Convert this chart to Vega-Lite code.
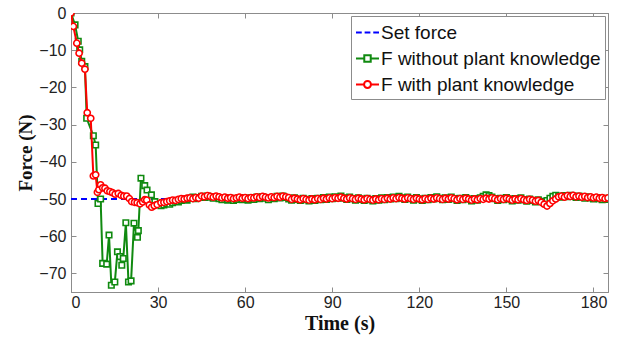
{
  "$schema": "https://vega.github.io/schema/vega-lite/v6.json",
  "width": 537,
  "height": 279,
  "autosize": "none",
  "padding": {"left": 71, "top": 13, "right": 17, "bottom": 49},
  "background": "white",
  "config": {
    "font": "Liberation Serif",
    "view": {"stroke": "#8c8c8c"},
    "axis": {
      "grid": false,
      "domainColor": "#8c8c8c",
      "tickColor": "#8c8c8c",
      "tickSize": -5,
      "labelFont": "Liberation Sans",
      "labelFontSize": 16,
      "labelColor": "#222222",
      "titleFont": "Liberation Serif",
      "titleFontWeight": "bold",
      "titleFontSize": 19,
      "titleColor": "#111111"
    }
  },
  "datasets": {
    "setforce": [{"t": 0, "F": -50}, {"t": 185, "F": -50}],
    "green": [
      {"t": 0, "F": 0}, {"t": 1.4, "F": -3.2}, {"t": 2.5, "F": -7.6}, {"t": 3.0, "F": -9.9}, {"t": 3.7, "F": -13.0},
      {"t": 4.8, "F": -14.4}, {"t": 5.4, "F": -28.3}, {"t": 7.7, "F": -33.0}, {"t": 8.5, "F": -35.5}, {"t": 9.3, "F": -51.2},
      {"t": 10.2, "F": -50.0}, {"t": 10.9, "F": -67.3}, {"t": 12.3, "F": -67.5}, {"t": 13.1, "F": -59.7}, {"t": 13.9, "F": -73.2},
      {"t": 15.1, "F": -72.3}, {"t": 16.0, "F": -64.2}, {"t": 16.9, "F": -65.5}, {"t": 17.5, "F": -67.8}, {"t": 18.0, "F": -66.0},
      {"t": 18.9, "F": -56.4}, {"t": 19.8, "F": -72.3}, {"t": 20.7, "F": -72.0}, {"t": 21.7, "F": -56.5}, {"t": 22.9, "F": -60.3},
      {"t": 23.2, "F": -58.5}, {"t": 24.1, "F": -44.4}, {"t": 25.4, "F": -46.4}, {"t": 26.2, "F": -47.6}, {"t": 27.7, "F": -48.9},
      {"t": 28.9, "F": -50.7},
      {"t": 30, "F": -51.5}, {"t": 31, "F": -51.8}, {"t": 32, "F": -51.6}, {"t": 33, "F": -51.2}, {"t": 34, "F": -51.4},
      {"t": 35, "F": -51.0}, {"t": 36, "F": -50.6}, {"t": 37, "F": -50.8}, {"t": 38, "F": -50.4}, {"t": 39, "F": -50.1},
      {"t": 40, "F": -50.3}, {"t": 41, "F": -49.8}, {"t": 42, "F": -49.5}, {"t": 43, "F": -49.9}, {"t": 44, "F": -49.6},
      {"t": 45, "F": -49.3}, {"t": 46, "F": -49.6}, {"t": 47, "F": -49.2}, {"t": 48, "F": -49.5}, {"t": 49, "F": -49.8},
      {"t": 50, "F": -49.4}, {"t": 51, "F": -49.9}, {"t": 52, "F": -50.2}, {"t": 53, "F": -49.7}, {"t": 54, "F": -50.3},
      {"t": 55, "F": -49.8}, {"t": 56, "F": -50.4}, {"t": 57, "F": -50.1}, {"t": 58, "F": -49.6}, {"t": 59, "F": -50.2},
      {"t": 60, "F": -49.8}, {"t": 61, "F": -50.3}, {"t": 62, "F": -49.7}, {"t": 63, "F": -50.1}, {"t": 64, "F": -49.5},
      {"t": 65, "F": -49.9}, {"t": 66, "F": -49.4}, {"t": 67, "F": -49.8}, {"t": 68, "F": -50.2}, {"t": 69, "F": -49.6},
      {"t": 70, "F": -49.9}, {"t": 71, "F": -49.3}, {"t": 72, "F": -49.7}, {"t": 73, "F": -49.2}, {"t": 74, "F": -49.6},
      {"t": 75, "F": -50.0}, {"t": 76, "F": -50.3}, {"t": 77, "F": -49.7}, {"t": 78, "F": -50.1}, {"t": 79, "F": -50.4},
      {"t": 80, "F": -49.8}, {"t": 81, "F": -50.2}, {"t": 82, "F": -50.5}, {"t": 83, "F": -49.9}, {"t": 84, "F": -50.4},
      {"t": 85, "F": -49.8}, {"t": 86, "F": -50.2}, {"t": 87, "F": -49.6}, {"t": 88, "F": -50.1}, {"t": 89, "F": -49.5},
      {"t": 90, "F": -49.9}, {"t": 91, "F": -49.4}, {"t": 92, "F": -49.8}, {"t": 93, "F": -49.2}, {"t": 94, "F": -49.7},
      {"t": 95, "F": -50.1}, {"t": 96, "F": -49.5}, {"t": 97, "F": -49.9}, {"t": 98, "F": -50.3}, {"t": 99, "F": -49.7},
      {"t": 100, "F": -50.1}, {"t": 101, "F": -50.4}, {"t": 102, "F": -49.8}, {"t": 103, "F": -50.2}, {"t": 104, "F": -50.5},
      {"t": 105, "F": -49.9}, {"t": 106, "F": -50.3}, {"t": 107, "F": -49.7}, {"t": 108, "F": -50.2}, {"t": 109, "F": -49.6},
      {"t": 110, "F": -50.0}, {"t": 111, "F": -49.5}, {"t": 112, "F": -49.9}, {"t": 113, "F": -49.3}, {"t": 114, "F": -49.7},
      {"t": 115, "F": -50.1}, {"t": 116, "F": -49.5}, {"t": 117, "F": -49.9}, {"t": 118, "F": -50.3}, {"t": 119, "F": -49.6},
      {"t": 120, "F": -50.0}, {"t": 121, "F": -50.4}, {"t": 122, "F": -49.8}, {"t": 123, "F": -50.2}, {"t": 124, "F": -49.6},
      {"t": 125, "F": -50.0}, {"t": 126, "F": -49.4}, {"t": 127, "F": -49.8}, {"t": 128, "F": -50.2}, {"t": 129, "F": -49.7},
      {"t": 130, "F": -50.1}, {"t": 131, "F": -49.5}, {"t": 132, "F": -49.9}, {"t": 133, "F": -50.4}, {"t": 134, "F": -49.8},
      {"t": 135, "F": -50.2}, {"t": 136, "F": -49.6}, {"t": 137, "F": -50.0}, {"t": 138, "F": -50.5}, {"t": 139, "F": -49.9},
      {"t": 140, "F": -50.3}, {"t": 141, "F": -49.7}, {"t": 142, "F": -49.3}, {"t": 143, "F": -48.9}, {"t": 144, "F": -49.1},
      {"t": 145, "F": -49.5}, {"t": 146, "F": -49.9}, {"t": 147, "F": -50.4}, {"t": 148, "F": -49.8}, {"t": 149, "F": -50.2},
      {"t": 150, "F": -49.6}, {"t": 151, "F": -50.0}, {"t": 152, "F": -50.5}, {"t": 153, "F": -49.9}, {"t": 154, "F": -50.3},
      {"t": 155, "F": -49.7}, {"t": 156, "F": -50.2}, {"t": 157, "F": -50.6}, {"t": 158, "F": -50.0}, {"t": 159, "F": -50.4},
      {"t": 160, "F": -50.8}, {"t": 161, "F": -50.2}, {"t": 162, "F": -50.6}, {"t": 163, "F": -51.0}, {"t": 164, "F": -50.4},
      {"t": 165, "F": -49.8}, {"t": 166, "F": -49.3}, {"t": 167, "F": -49.0}, {"t": 168, "F": -49.2}, {"t": 169, "F": -49.5},
      {"t": 170, "F": -49.1}, {"t": 171, "F": -49.4}, {"t": 172, "F": -49.0}, {"t": 173, "F": -49.3}, {"t": 174, "F": -49.6},
      {"t": 175, "F": -49.2}, {"t": 176, "F": -49.5}, {"t": 177, "F": -49.8}, {"t": 178, "F": -49.4}, {"t": 179, "F": -49.7},
      {"t": 180, "F": -50.0}, {"t": 181, "F": -49.6}, {"t": 182, "F": -49.9}, {"t": 183, "F": -50.2}, {"t": 184, "F": -49.8},
      {"t": 185, "F": -50.1}
    ],
    "red": [
      {"t": 0, "F": 0}, {"t": 0.8, "F": -3.6}, {"t": 2.0, "F": -8.1}, {"t": 2.8, "F": -10.8}, {"t": 3.7, "F": -13.5},
      {"t": 4.8, "F": -15.1}, {"t": 5.6, "F": -26.8}, {"t": 6.8, "F": -28.3}, {"t": 7.7, "F": -43.8}, {"t": 8.5, "F": -43.5},
      {"t": 9.1, "F": -48.2}, {"t": 9.6, "F": -47.5}, {"t": 10.2, "F": -46.2}, {"t": 10.9, "F": -47.0}, {"t": 11.7, "F": -47.1},
      {"t": 12.5, "F": -47.8}, {"t": 13.4, "F": -48.0}, {"t": 14.3, "F": -48.3}, {"t": 15.2, "F": -48.7}, {"t": 16.3, "F": -48.5},
      {"t": 17.3, "F": -49.0}, {"t": 18.2, "F": -49.2}, {"t": 19.2, "F": -49.2}, {"t": 20.1, "F": -49.9}, {"t": 20.9, "F": -50.7},
      {"t": 21.9, "F": -50.9}, {"t": 22.8, "F": -51.0}, {"t": 23.8, "F": -51.3}, {"t": 24.7, "F": -50.8}, {"t": 25.4, "F": -50.2},
      {"t": 26.1, "F": -50.3}, {"t": 27.0, "F": -51.6}, {"t": 27.8, "F": -52.2}, {"t": 28.7, "F": -51.8}, {"t": 29.7, "F": -51.5},
      {"t": 31, "F": -51.0}, {"t": 32, "F": -50.9}, {"t": 33, "F": -50.7}, {"t": 34, "F": -50.5}, {"t": 35, "F": -50.3},
      {"t": 36, "F": -50.4}, {"t": 37, "F": -50.1}, {"t": 38, "F": -49.9}, {"t": 39, "F": -50.0}, {"t": 40, "F": -49.8},
      {"t": 41, "F": -49.7}, {"t": 42, "F": -49.9}, {"t": 43, "F": -49.6}, {"t": 44, "F": -49.8}, {"t": 45, "F": -49.2},
      {"t": 46, "F": -49.4}, {"t": 47, "F": -49.1}, {"t": 48, "F": -49.3}, {"t": 49, "F": -49.5}, {"t": 50, "F": -49.2},
      {"t": 51, "F": -49.4}, {"t": 52, "F": -49.7}, {"t": 53, "F": -49.5}, {"t": 54, "F": -49.8}, {"t": 55, "F": -49.6},
      {"t": 56, "F": -49.9}, {"t": 57, "F": -49.7}, {"t": 58, "F": -49.5}, {"t": 59, "F": -49.8}, {"t": 60, "F": -49.6},
      {"t": 61, "F": -49.9}, {"t": 62, "F": -49.6}, {"t": 63, "F": -49.7}, {"t": 64, "F": -49.4}, {"t": 65, "F": -49.6},
      {"t": 66, "F": -49.3}, {"t": 67, "F": -49.5}, {"t": 68, "F": -49.7}, {"t": 69, "F": -49.4}, {"t": 70, "F": -49.6},
      {"t": 71, "F": -49.3}, {"t": 72, "F": -49.5}, {"t": 73, "F": -49.2}, {"t": 74, "F": -49.4}, {"t": 75, "F": -49.6},
      {"t": 76, "F": -50.1}, {"t": 77, "F": -49.8}, {"t": 78, "F": -50.0}, {"t": 79, "F": -50.2}, {"t": 80, "F": -49.9},
      {"t": 81, "F": -50.1}, {"t": 82, "F": -50.3}, {"t": 83, "F": -50.0}, {"t": 84, "F": -50.2}, {"t": 85, "F": -49.9},
      {"t": 86, "F": -50.1}, {"t": 87, "F": -49.8}, {"t": 88, "F": -50.0}, {"t": 89, "F": -49.7}, {"t": 90, "F": -49.9},
      {"t": 91, "F": -49.6}, {"t": 92, "F": -49.8}, {"t": 93, "F": -49.5}, {"t": 94, "F": -49.8}, {"t": 95, "F": -50.0},
      {"t": 96, "F": -49.7}, {"t": 97, "F": -49.9}, {"t": 98, "F": -50.1}, {"t": 99, "F": -49.8}, {"t": 100, "F": -50.0},
      {"t": 101, "F": -50.2}, {"t": 102, "F": -49.9}, {"t": 103, "F": -50.1}, {"t": 104, "F": -50.3}, {"t": 105, "F": -50.0},
      {"t": 106, "F": -50.2}, {"t": 107, "F": -49.9}, {"t": 108, "F": -50.1}, {"t": 109, "F": -49.8}, {"t": 110, "F": -50.0},
      {"t": 111, "F": -49.7}, {"t": 112, "F": -49.9}, {"t": 113, "F": -49.6}, {"t": 114, "F": -49.8}, {"t": 115, "F": -50.0},
      {"t": 116, "F": -49.7}, {"t": 117, "F": -49.9}, {"t": 118, "F": -50.1}, {"t": 119, "F": -49.8}, {"t": 120, "F": -50.0},
      {"t": 121, "F": -50.2}, {"t": 122, "F": -49.9}, {"t": 123, "F": -50.1}, {"t": 124, "F": -49.8}, {"t": 125, "F": -50.0},
      {"t": 126, "F": -49.7}, {"t": 127, "F": -49.9}, {"t": 128, "F": -50.1}, {"t": 129, "F": -49.8}, {"t": 130, "F": -50.0},
      {"t": 131, "F": -49.7}, {"t": 132, "F": -49.9}, {"t": 133, "F": -50.2}, {"t": 134, "F": -49.9}, {"t": 135, "F": -50.1},
      {"t": 136, "F": -49.8}, {"t": 137, "F": -50.0}, {"t": 138, "F": -50.3}, {"t": 139, "F": -50.0}, {"t": 140, "F": -50.2},
      {"t": 141, "F": -49.9}, {"t": 142, "F": -50.1}, {"t": 143, "F": -49.8}, {"t": 144, "F": -50.0}, {"t": 145, "F": -49.7},
      {"t": 146, "F": -49.9}, {"t": 147, "F": -50.2}, {"t": 148, "F": -49.9}, {"t": 149, "F": -50.1}, {"t": 150, "F": -49.8},
      {"t": 151, "F": -50.0}, {"t": 152, "F": -50.3}, {"t": 153, "F": -50.0}, {"t": 154, "F": -50.2}, {"t": 155, "F": -49.9},
      {"t": 156, "F": -50.2}, {"t": 157, "F": -50.4}, {"t": 158, "F": -50.1}, {"t": 159, "F": -50.3}, {"t": 160, "F": -50.6},
      {"t": 161, "F": -50.4}, {"t": 162, "F": -50.9}, {"t": 163, "F": -51.4}, {"t": 164, "F": -51.9}, {"t": 165, "F": -51.2},
      {"t": 166, "F": -50.5}, {"t": 167, "F": -50.0}, {"t": 168, "F": -49.4}, {"t": 169, "F": -49.2}, {"t": 170, "F": -49.5},
      {"t": 171, "F": -49.1}, {"t": 172, "F": -49.3}, {"t": 173, "F": -49.0}, {"t": 174, "F": -49.4}, {"t": 175, "F": -49.2},
      {"t": 176, "F": -49.5}, {"t": 177, "F": -49.3}, {"t": 178, "F": -49.6}, {"t": 179, "F": -49.4}, {"t": 180, "F": -49.7},
      {"t": 181, "F": -49.5}, {"t": 182, "F": -49.8}, {"t": 183, "F": -49.6}, {"t": 184, "F": -49.9}, {"t": 185, "F": -49.7}
    ],
    "legend": [
      {"s": "Set force"},
      {"s": "F without plant knowledge"},
      {"s": "F with plant knowledge"}
    ]
  },
  "layer": [
    {
      "data": {"name": "setforce"},
      "mark": {"type": "line", "color": "#0000ff", "strokeWidth": 2, "strokeDash": [6, 4], "clip": true},
      "encoding": {
        "x": {"field": "t", "type": "quantitative", "scale": {"domain": [0, 185], "nice": false},
          "axis": {"orient": "bottom", "values": [0, 30, 60, 90, 120, 150, 180], "title": "Time (s)", "labelPadding": 7, "titlePadding": 3, "titleFontSize": 20}},
        "y": {"field": "F", "type": "quantitative", "scale": {"domain": [-75, 0], "nice": false},
          "axis": {"orient": "left", "values": [-70, -60, -50, -40, -30, -20, -10, 0], "title": "Force (N)", "labelPadding": 10, "titlePadding": 3}}
      }
    },
    {
      "data": {"name": "green"},
      "mark": {"type": "line", "color": "#108a10", "strokeWidth": 2, "clip": true,
        "point": {"shape": "square", "size": 30, "filled": false, "fill": "white", "stroke": "#108a10", "strokeWidth": 1.6}},
      "encoding": {
        "x": {"field": "t", "type": "quantitative", "scale": {"domain": [0, 185], "nice": false},
          "axis": {"orient": "top", "values": [0, 30, 60, 90, 120, 150, 180], "labels": false, "title": null}},
        "y": {"field": "F", "type": "quantitative", "scale": {"domain": [-75, 0], "nice": false},
          "axis": {"orient": "right", "values": [-70, -60, -50, -40, -30, -20, -10, 0], "labels": false, "title": null}}
      }
    },
    {
      "data": {"name": "red"},
      "mark": {"type": "line", "color": "#ff0000", "strokeWidth": 2, "clip": true,
        "point": {"shape": "circle", "size": 38, "filled": false, "fill": "white", "stroke": "#ff0000", "strokeWidth": 1.6}},
      "encoding": {
        "x": {"field": "t", "type": "quantitative", "scale": {"domain": [0, 185], "nice": false}, "axis": null},
        "y": {"field": "F", "type": "quantitative", "scale": {"domain": [-75, 0], "nice": false}, "axis": null}
      }
    },
    {
      "data": {"name": "legend"},
      "mark": {"type": "point", "opacity": 0, "filled": false},
      "encoding": {
        "color": {"field": "s", "type": "nominal",
          "scale": {"domain": ["Set force", "F without plant knowledge", "F with plant knowledge"], "range": ["#0000ff", "#108a10", "#ff0000"]},
          "legend": {"title": null, "orient": "top-right", "offset": 3, "strokeColor": "#8c8c8c", "fillColor": "white", "padding": 4,
            "labelFont": "Liberation Sans", "labelFontSize": 19, "labelColor": "#111111", "labelLimit": 400, "labelOffset": 1,
            "symbolSize": 529, "symbolStrokeWidth": 2, "symbolOpacity": 1, "rowPadding": 3, "cornerRadius": 0}},
        "shape": {"field": "s", "type": "nominal",
          "scale": {"domain": ["Set force", "F without plant knowledge", "F with plant knowledge"],
            "range": [
              "M-1,0H-0.5M-0.25,0H0.25M0.5,0H1",
              "M-1,0H-0.28M0.28,0H1M-0.28,-0.28H0.28V0.28H-0.28Z",
              "M-1,0H-0.3M0.3,0H1M0.3,0A0.3,0.3,0,1,1,-0.3,0A0.3,0.3,0,1,1,0.3,0Z"
            ]},
          "legend": {"title": null, "orient": "top-right", "offset": 3, "strokeColor": "#8c8c8c", "fillColor": "white", "padding": 4,
            "labelFont": "Liberation Sans", "labelFontSize": 19, "labelColor": "#111111", "labelLimit": 400, "labelOffset": 1,
            "symbolSize": 529, "symbolStrokeWidth": 2, "symbolOpacity": 1, "rowPadding": 3, "cornerRadius": 0}}
      }
    }
  ],
  "resolve": {"axis": {"x": "independent", "y": "independent"}}
}
